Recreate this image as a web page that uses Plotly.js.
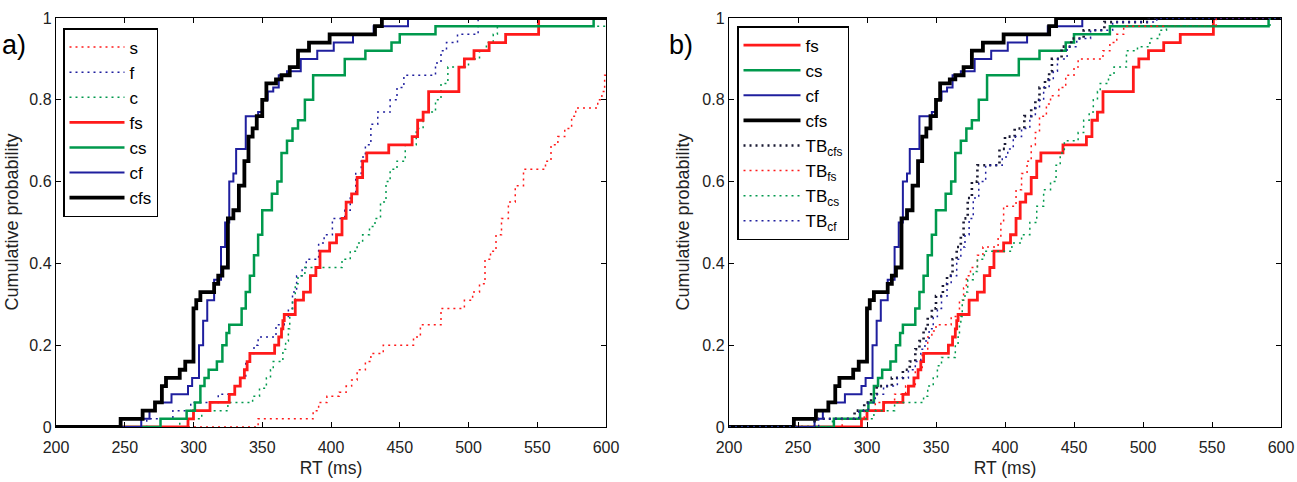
<!DOCTYPE html>
<html>
<head>
<meta charset="utf-8">
<script src="https://cdn.plot.ly/plotly-3.0.1.min.js"></script>
<style>
  html, body { margin: 0; padding: 0; background: #fff; }
  #chart { width: 1297px; height: 482px; }
</style>
</head>
<body>
<div id="chart"></div>
<script>
// ---- Data (RT in ms, cumulative probability) ----
const s_x  = [200,347,387,391,397,406,411,415,419,425,429,438,460,465,480,497,503,508,512,516,520,524,529,534,540,556,560,565,570,575,578,594,597,599,600];
const s_y  = [0,0.02,0.04,0.06,0.075,0.085,0.1,0.115,0.14,0.16,0.18,0.2,0.22,0.25,0.29,0.31,0.33,0.35,0.41,0.43,0.47,0.51,0.55,0.59,0.63,0.65,0.69,0.71,0.73,0.76,0.78,0.8,0.82,0.86,0.86];

const f_x  = [200,266,285,298,318,330,334,338,341,344,347,360,366,369,372,375,379,382,391,395,401,410,414,418,422,425,429,434,443,448,453,476,480,484,492,507,600];
const f_y  = [0,0.02,0.04,0.06,0.08,0.1,0.12,0.16,0.18,0.2,0.22,0.25,0.27,0.29,0.33,0.37,0.39,0.41,0.45,0.47,0.51,0.53,0.57,0.62,0.66,0.69,0.74,0.77,0.8,0.83,0.86,0.89,0.92,0.94,0.96,1,1];

const c_x  = [200,290,306,325,343,348,353,356,358,365,367,369,370,372,374,376,381,408,414,419,423,428,432,436,440,443,448,454,462,467,476,480,485,500,508,513,518,521,600];
const c_y  = [0,0.02,0.04,0.06,0.075,0.095,0.12,0.14,0.16,0.19,0.21,0.24,0.27,0.31,0.35,0.37,0.39,0.41,0.43,0.45,0.47,0.49,0.51,0.55,0.6,0.63,0.65,0.69,0.73,0.77,0.8,0.84,0.88,0.9,0.92,0.94,0.96,0.98,0.98];

const fs_x = [200,296,300,312,326,330,334,337,339,341,359,362,364,365,366,374,380,385,389,392,399,404,408,411,415,419,423,426,442,459,463,467,471,493,497,504,515,527,551,600];
const fs_y = [0,0.02,0.04,0.06,0.08,0.1,0.12,0.14,0.16,0.18,0.2,0.22,0.24,0.26,0.275,0.31,0.33,0.37,0.39,0.43,0.45,0.47,0.51,0.55,0.57,0.61,0.65,0.67,0.69,0.71,0.75,0.77,0.82,0.88,0.9,0.92,0.94,0.96,1,1];

const cs_x = [200,276,295,301,305,308,311,317,321,324,326,335,338,341,344,347,350,357,361,364,368,372,376,381,387,410,425,444,450,476,591,600];
const cs_y = [0,0.02,0.04,0.06,0.1,0.12,0.14,0.16,0.2,0.23,0.25,0.29,0.33,0.37,0.42,0.47,0.53,0.57,0.6,0.67,0.7,0.73,0.75,0.8,0.86,0.9,0.92,0.94,0.96,0.98,1,1];

const cf_x = [200,262,268,272,284,296,299,304,307,310,315,320,323,326,329,331,338,347,350,354,358,362,368,378,390,402,416,431,456,600];
const cf_y = [0,0.02,0.04,0.06,0.08,0.1,0.12,0.2,0.26,0.31,0.36,0.44,0.5,0.6,0.62,0.68,0.76,0.77,0.8,0.82,0.83,0.86,0.87,0.9,0.92,0.94,0.96,0.98,1,1];

const cfs_x = [200,247,263,272,277,280,290,294,300,302,305,315,318,321,325,329,333,337,340,343,346,350,353,360,364,370,376,384,399,432,437,600];
const cfs_y = [0,0.02,0.04,0.06,0.1,0.12,0.14,0.16,0.29,0.31,0.33,0.35,0.37,0.39,0.51,0.53,0.59,0.65,0.71,0.73,0.76,0.8,0.84,0.85,0.86,0.88,0.92,0.94,0.96,0.98,1,1];

const tbcfs_x = [200,262,291,298,303,307,318,326,331,335,338,341,344,347,350,355,358,362,365,368,370,373,376,380,396,400,407,414,419,422,425,429,432,434,441,448,457,472,504,600];
const tbcfs_y = [0,0.02,0.04,0.06,0.08,0.1,0.12,0.14,0.16,0.19,0.21,0.24,0.27,0.29,0.32,0.35,0.37,0.41,0.44,0.47,0.51,0.56,0.6,0.64,0.68,0.71,0.73,0.76,0.78,0.8,0.83,0.85,0.87,0.9,0.93,0.95,0.97,0.99,1,1];

const tbfs_x = [200,282,298,306,320,328,335,340,344,347,350,361,367,370,372,375,380,384,395,397,399,408,412,416,419,422,425,430,433,439,444,450,453,471,476,481,486,553,600];
const tbfs_y = [0,0.02,0.04,0.06,0.08,0.1,0.14,0.18,0.22,0.235,0.25,0.27,0.31,0.34,0.37,0.39,0.42,0.44,0.46,0.5,0.54,0.58,0.62,0.65,0.69,0.72,0.76,0.79,0.81,0.83,0.86,0.88,0.9,0.92,0.94,0.96,0.98,1,1];

const tbcs_x = [200,275,305,320,341,344,348,351,354,364,366,367,368,369,371,373,377,380,385,405,412,418,423,428,433,437,440,443,453,457,461,464,467,469,475,479,488,496,505,512,517,592,600];
const tbcs_y = [0,0.02,0.04,0.06,0.075,0.1,0.12,0.15,0.17,0.2,0.22,0.25,0.27,0.31,0.33,0.36,0.38,0.41,0.43,0.45,0.47,0.5,0.54,0.58,0.6,0.64,0.67,0.7,0.72,0.75,0.77,0.8,0.82,0.84,0.86,0.88,0.92,0.93,0.95,0.97,0.98,1,1];

const tbcf_x = [200,265,294,301,306,312,322,330,335,339,342,345,348,351,354,358,361,365,368,371,374,377,381,386,398,402,406,412,418,422,425,428,432,435,438,445,452,462,478,510,600];
const tbcf_y = [0,0.02,0.04,0.06,0.08,0.1,0.12,0.14,0.16,0.19,0.21,0.24,0.27,0.29,0.32,0.35,0.37,0.41,0.44,0.47,0.51,0.56,0.6,0.64,0.66,0.68,0.71,0.73,0.76,0.78,0.8,0.83,0.85,0.87,0.9,0.93,0.95,0.97,0.99,1,1];

const xTicks = [200,250,300,350,400,450,500,550,600];
const yTicks = [0,0.2,0.4,0.6,0.8,1];

// ---- Styles ----
const RED = '#ff1a1a', GREEN = '#00994d', BLUE = '#1f1f9e', BLACK = '#000000';
const DOT = '2px,4px';

function tr(x, y, name, color, width, dash, xa, ya, legend) {
  return {
    x: x, y: y, name: name, type: 'scatter', mode: 'lines',
    line: { color: color, width: width, dash: dash, shape: 'hv' },
    xaxis: xa, yaxis: ya, legend: legend, hoverinfo: 'skip'
  };
}

const data = [
  tr(s_x, s_y, 's', RED, 1.5, DOT, 'x', 'y', 'legend'),
  tr(f_x, f_y, 'f', BLUE, 1.5, DOT, 'x', 'y', 'legend'),
  tr(c_x, c_y, 'c', GREEN, 1.5, DOT, 'x', 'y', 'legend'),
  tr(fs_x, fs_y, 'fs', RED, 2.8, 'solid', 'x', 'y', 'legend'),
  tr(cs_x, cs_y, 'cs', GREEN, 2.5, 'solid', 'x', 'y', 'legend'),
  tr(cf_x, cf_y, 'cf', BLUE, 2, 'solid', 'x', 'y', 'legend'),
  tr(cfs_x, cfs_y, 'cfs', BLACK, 3.8, 'solid', 'x', 'y', 'legend'),

  tr(fs_x, fs_y, 'fs', RED, 2.8, 'solid', 'x2', 'y2', 'legend2'),
  tr(cs_x, cs_y, 'cs', GREEN, 2.5, 'solid', 'x2', 'y2', 'legend2'),
  tr(cf_x, cf_y, 'cf', BLUE, 2, 'solid', 'x2', 'y2', 'legend2'),
  tr(cfs_x, cfs_y, 'cfs', BLACK, 3.8, 'solid', 'x2', 'y2', 'legend2'),
  tr(tbcfs_x, tbcfs_y, 'TB<sub>cfs</sub>', '#1a1a33', 2.6, DOT, 'x2', 'y2', 'legend2'),
  tr(tbfs_x, tbfs_y, 'TB<sub>fs</sub>', RED, 1.5, DOT, 'x2', 'y2', 'legend2'),
  tr(tbcs_x, tbcs_y, 'TB<sub>cs</sub>', GREEN, 1.5, DOT, 'x2', 'y2', 'legend2'),
  tr(tbcf_x, tbcf_y, 'TB<sub>cf</sub>', BLUE, 1.5, DOT, 'x2', 'y2', 'legend2')
];

const FONT = 'Liberation Sans, Arial, Helvetica, sans-serif';
function xax(domain, anchor) {
  return {
    domain: domain, anchor: anchor, range: [200, 600], tickvals: xTicks,
    ticks: 'inside', ticklen: 5, tickcolor: '#000', tickwidth: 1,
    showline: true, linecolor: '#000', linewidth: 1.2, mirror: 'allticks',
    showgrid: false, zeroline: false, fixedrange: true, automargin: false,
    ticklabelstandoff: 6,
    tickfont: { family: FONT, size: 16, color: '#222' },
    title: { text: 'RT (ms)', font: { family: FONT, size: 17.5, color: '#222' }, standoff: 6 }
  };
}
function yax(anchor) {
  return {
    domain: [0, 1], anchor: anchor, range: [0, 1], tickvals: yTicks,
    ticks: 'inside', ticklen: 5, tickcolor: '#000', tickwidth: 1,
    showline: true, linecolor: '#000', linewidth: 1.2, mirror: 'allticks',
    showgrid: false, zeroline: false, fixedrange: true, automargin: false,
    tickfont: { family: FONT, size: 16, color: '#222' }
  };
}

const layout = {
  width: 1297, height: 482,
  margin: { l: 0, r: 0, t: 18, b: 55 },
  paper_bgcolor: '#fff', plot_bgcolor: '#fff',
  font: { family: FONT, color: '#000' },
  showlegend: true,
  xaxis: xax([56/1297, 606/1297], 'y'),
  yaxis: yax('x'),
  xaxis2: xax([729/1297, 1281/1297], 'y2'),
  yaxis2: yax('x2'),
  legend: {
    x: 63/1297, y: (427-28)/409, xanchor: 'left', yanchor: 'top',
    bgcolor: '#fff', bordercolor: '#000', borderwidth: 1.5, itemwidth: 55,
    font: { family: FONT, size: 17, color: '#000' }, tracegroupgap: 0
  },
  legend2: {
    x: 737/1297, y: (427-26)/409, xanchor: 'left', yanchor: 'top',
    bgcolor: '#fff', bordercolor: '#000', borderwidth: 1.5, itemwidth: 57,
    font: { family: FONT, size: 17, color: '#000' }, tracegroupgap: 0
  },
  annotations: [
    { text: 'a)', xref: 'paper', yref: 'paper', x: 0, y: (427-45)/409, xanchor: 'left', yanchor: 'middle',
      showarrow: false, font: { family: FONT, size: 27, color: '#000' } },
    { text: 'b)', xref: 'paper', yref: 'paper', x: 667/1297, y: (427-45)/409, xanchor: 'left', yanchor: 'middle',
      showarrow: false, font: { family: FONT, size: 27, color: '#000' } },
    { text: 'Cumulative probability', xref: 'paper', yref: 'paper', x: 11/1297, y: 0.5, textangle: -90,
      xanchor: 'center', yanchor: 'middle', showarrow: false, font: { family: FONT, size: 18, color: '#222' } },
    { text: 'Cumulative probability', xref: 'paper', yref: 'paper', x: 682/1297, y: 0.5, textangle: -90,
      xanchor: 'center', yanchor: 'middle', showarrow: false, font: { family: FONT, size: 18, color: '#222' } }
  ]
};

Plotly.newPlot('chart', data, layout, { staticPlot: true, displayModeBar: false });
</script>
</body>
</html>
